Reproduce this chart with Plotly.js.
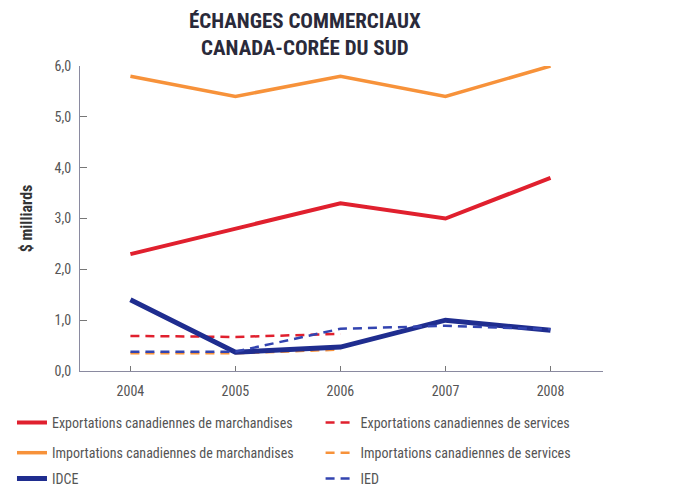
<!DOCTYPE html>
<html>
<head>
<meta charset="utf-8">
<script src="https://cdn.plot.ly/plotly-3.0.1.min.js"></script>
<style>html,body{margin:0;padding:0;background:#fff;}#chart{width:685px;height:504px;}</style>
</head>
<body>
<div id="chart"></div>
<script>
var years = [2004, 2005, 2006, 2007, 2008];
var yearsServices = [2004, 2005, 2006];
var exportsMarch = [2.3, 2.8, 3.3, 3.0, 3.8];
var importsMarch = [5.8, 5.4, 5.8, 5.4, 6.0];
var idce = [1.4, 0.37, 0.47, 1.0, 0.8];
var exportsServ = [0.69, 0.67, 0.73];
var importsServ = [0.35, 0.35, 0.42];
var ied = [0.38, 0.38, 0.83, 0.89, 0.82];
var yTicks = [0, 1, 2, 3, 4, 5, 6];
var yTickText = ['0,0', '1,0', '2,0', '3,0', '4,0', '5,0', '6,0'];
var names = [
  'Exportations canadiennes de marchandises',
  'Exportations canadiennes de services',
  'Importations canadiennes de marchandises',
  'Importations canadiennes de services',
  'IDCE',
  'IED'
];

var RED = '#e0202e', ORANGE = '#f7923a', BLUE = '#1f2d8f', BLUE2 = '#3344b0';
var FONT = '"Liberation Sans Narrow", "Arial Narrow", "Roboto Condensed", Roboto, sans-serif';

var traces = [
  {x: years, y: exportsMarch, name: names[0], mode: 'lines', line: {color: RED, width: 4}, legend: 'legend'},
  {x: yearsServices, y: exportsServ, name: names[1], mode: 'lines', line: {color: RED, width: 2.5, dash: '9px,6px'}, legend: 'legend2'},
  {x: years, y: importsMarch, name: names[2], mode: 'lines', line: {color: ORANGE, width: 3.5}, legend: 'legend3'},
  {x: yearsServices, y: importsServ, name: names[3], mode: 'lines', line: {color: ORANGE, width: 2.5, dash: '9px,6px'}, legend: 'legend4'},
  {x: years, y: idce, name: names[4], mode: 'lines', line: {color: BLUE, width: 5}, legend: 'legend5'},
  {x: years, y: ied, name: names[5], mode: 'lines', line: {color: BLUE2, width: 2.5, dash: '9px,6px'}, legend: 'legend6'}
];

function leg(x, y) {
  return {
    orientation: 'h', xref: 'container', yref: 'container',
    x: x, xanchor: 'left', y: y, yanchor: 'middle',
    font: {family: FONT, size: 14, color: '#555'},
    bgcolor: 'rgba(0,0,0,0)'
  };
}
var colX = [0.0175, 0.468];
var rowY = [0.161, 0.101, 0.050];

var layout = {
  width: 685, height: 504,
  margin: {l: 80, r: 82, t: 66, b: 133},
  paper_bgcolor: '#fff', plot_bgcolor: '#fff',
  showlegend: true,
  title: {
    text: '<b>ÉCHANGES COMMERCIAUX<br>CANADA-CORÉE DU SUD</b>',
    font: {family: FONT, size: 21, color: '#2a2a3a'},
    x: 0.445, xanchor: 'center', y: 0.945, yanchor: 'middle'
  },
  xaxis: {
    range: [2003.52, 2008.5],
    tickvals: years, ticktext: years.map(String),
    ticks: 'inside', ticklen: 5, tickcolor: '#777',
    ticklabelstandoff: 7,
    showline: true, linecolor: '#8a8aa0', linewidth: 1,
    showgrid: false, zeroline: false, automargin: false,
    tickfont: {family: FONT, size: 14, color: '#555'}
  },
  yaxis: {
    range: [0, 6],
    tickvals: yTicks, ticktext: yTickText,
    ticks: 'inside', ticklen: 7, tickcolor: '#777',
    ticklabelstandoff: 5,
    showline: true, linecolor: '#8a8aa0', linewidth: 1,
    showgrid: false, zeroline: false, automargin: false,
    tickfont: {family: FONT, size: 14, color: '#555'},
    title: {text: '<b>$ milliards</b>', font: {family: FONT, size: 16, color: '#333'}, standoff: 18}
  },
  legend: leg(colX[0], rowY[0]),
  legend2: leg(colX[1], rowY[0]),
  legend3: leg(colX[0], rowY[1]),
  legend4: leg(colX[1], rowY[1]),
  legend5: leg(colX[0], rowY[2]),
  legend6: leg(colX[1], rowY[2])
};

Plotly.newPlot('chart', traces, layout, {displayModeBar: false, staticPlot: true});
</script>
</body>
</html>
